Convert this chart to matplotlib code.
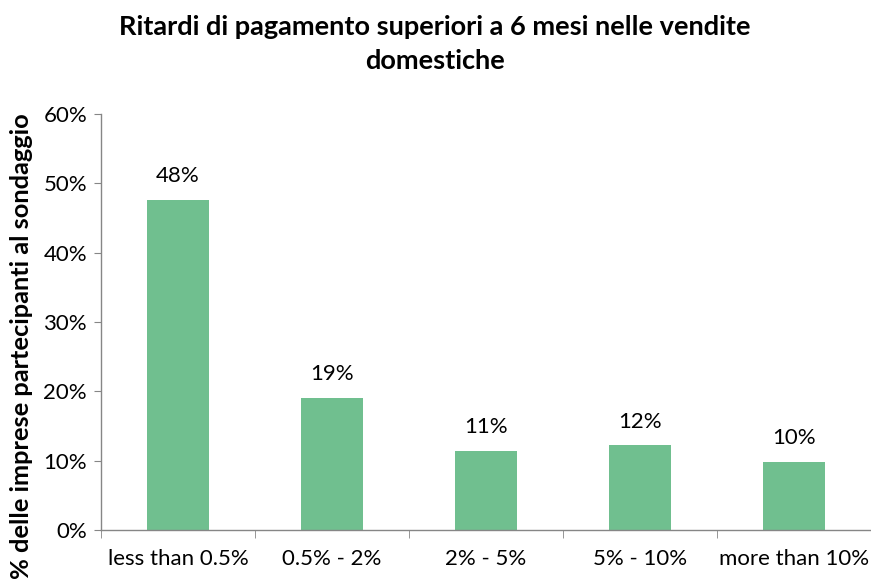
import matplotlib
matplotlib.use("Agg")
import matplotlib.pyplot as plt
from matplotlib.ticker import FuncFormatter, FixedLocator

categories = ["less than 0.5%", "0.5% - 2%", "2% - 5%", "5% - 10%", "more than 10%"]
values = [47.6, 19.0, 11.4, 12.2, 9.8]
labels = ["48%", "19%", "11%", "12%", "10%"]

plt.rcParams['font.family'] = ['Lato', 'DejaVu Sans']

fig = plt.figure(figsize=(8.71, 5.82), dpi=100)
ax = fig.add_axes([101/871, 1-530/582, 770/871, 416/582])

x = list(range(len(categories)))
bars = ax.bar(x, values, width=0.4, color="#70BF8F")
for xi, v, lab in zip(x, values, labels):
    ax.text(xi, v + 2.0, lab, ha='center', va='bottom', fontsize=16, color='#000000')

ax.set_xlim(-0.5, len(categories) - 0.5)
ax.set_ylim(0, 60)
ax.set_yticks([0, 10, 20, 30, 40, 50, 60])
ax.yaxis.set_major_formatter(FuncFormatter(lambda v, p: f"{int(v)}%"))
ax.set_xticks(x)
ax.set_xticklabels(categories, fontsize=16)
ax.xaxis.set_minor_locator(FixedLocator([i - 0.5 for i in range(len(categories) + 1)]))
ax.tick_params(axis='x', which='major', length=0, pad=14)
ax.tick_params(axis='x', which='minor', length=6, color='#868686', direction='out')
ax.tick_params(axis='y', length=5, color='#868686', labelsize=16, pad=5)

for s in ['top', 'right']:
    ax.spines[s].set_visible(False)
for s in ['left', 'bottom']:
    ax.spines[s].set_color('#868686')
    ax.spines[s].set_linewidth(1.0)

fig.text(435/871, 1-27/582, "Ritardi di pagamento superiori a 6 mesi nelle vendite",
         ha='center', va='center', fontsize=19.5, fontweight='bold')
fig.text(435/871, 1-61/582, "domestiche",
         ha='center', va='center', fontsize=19.5, fontweight='bold')
fig.text(22/871, 1-113/582, "% delle imprese partecipanti al sondaggio",
         rotation=90, ha='center', va='top', fontsize=18.3, fontweight='bold')

fig.savefig("out.png", dpi=100)
